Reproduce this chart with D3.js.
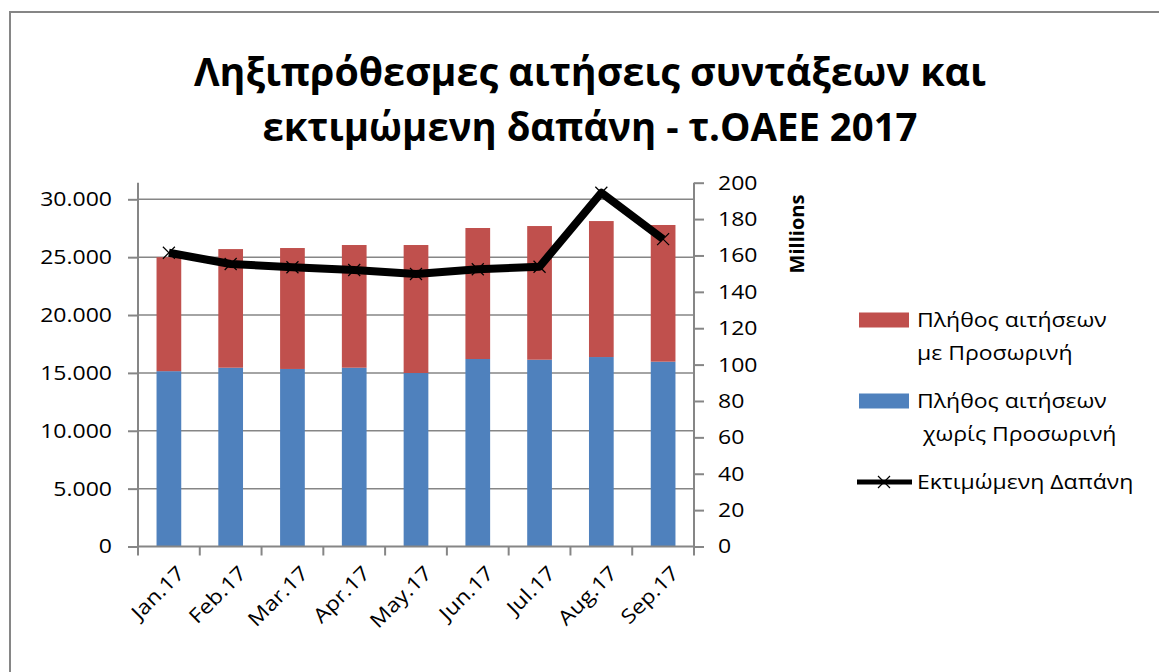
<!DOCTYPE html>
<html>
<head>
<meta charset="utf-8">
<script src="https://cdn.jsdelivr.net/npm/d3@7"></script>
<style>
  html, body { margin: 0; padding: 0; background: #fff; }
  svg { display: block; }
  text { font-family: "Open Sans", "Noto Sans", sans-serif; fill: #000; }
</style>
</head>
<body>
<svg id="chart" width="1159" height="672"></svg>
<script>
// ---- data ----
const categories = ["Jan.17", "Feb.17", "Mar.17", "Apr.17", "May.17", "Jun.17", "Jul.17", "Aug.17", "Sep.17"];
const withoutTemp = [15150, 15450, 15340, 15450, 14990, 16200, 16140, 16370, 15970]; // Πλήθος αιτήσεων χωρίς Προσωρινή
const withTemp = [9850, 10250, 10450, 10600, 11060, 11320, 11550, 11750, 11810];     // Πλήθος αιτήσεων με Προσωρινή
const cost = [161.5, 155.3, 153.5, 152.0, 149.8, 152.4, 153.8, 194.5, 169.0];        // Εκτιμώμενη Δαπάνη (Millions)
const leftTicks = [0, 5000, 10000, 15000, 20000, 25000, 30000];
const rightTicks = [0, 20, 40, 60, 80, 100, 120, 140, 160, 180, 200];
const titleLines = ["Ληξιπρόθεσμες αιτήσεις συντάξεων και", "εκτιμώμενη δαπάνη - τ.ΟΑΕΕ 2017"];
const legendItems = [
  { lines: ["Πλήθος αιτήσεων", "με Προσωρινή"], type: "bar", color: "#C0504D" },
  { lines: ["Πλήθος αιτήσεων", " χωρίς Προσωρινή"], type: "bar", color: "#4F81BD" },
  { lines: ["Εκτιμώμενη Δαπάνη"], type: "line", color: "#000" }
];

// ---- layout ----
const svg = d3.select("#chart");
const plot = { left: 138, right: 694, top: 182.7, bottom: 546.5, y30k: 199.3 };
const gridColor = "#868686";
const FS = 20;   // label font size
const K = 1.15;  // horizontal stretch of text glyphs

function stretch(sel, k) {
  sel.each(function () {
    const w = this.getComputedTextLength();
    this.setAttribute("textLength", w * k);
    this.setAttribute("lengthAdjust", "spacingAndGlyphs");
  });
}

// frame
svg.append("rect").attr("x", 10).attr("y", 12).attr("width", 3000).attr("height", 3000)
  .attr("fill", "none").attr("stroke", gridColor).attr("stroke-width", 2);

// scales
const x = d3.scaleBand().domain(categories).range([plot.left, plot.right]).paddingInner(0.6).paddingOuter(0.3);
const yL = d3.scaleLinear().domain([0, 30000]).range([plot.bottom, plot.y30k]);
const yR = d3.scaleLinear().domain([0, 200]).range([plot.bottom, plot.top]);

const loc = d3.formatLocale({ decimal: ",", thousands: ".", grouping: [3], currency: ["", ""] });
const fmt = loc.format(",");

// gridlines
svg.append("g").selectAll("line").data(leftTicks.filter(d => d > 0)).join("line")
  .attr("x1", plot.left).attr("x2", plot.right)
  .attr("y1", d => yL(d)).attr("y2", d => yL(d))
  .attr("stroke", gridColor).attr("stroke-width", 1.5);

// bars (stacked)
const stackData = categories.map((c, i) => ({ c, a: withoutTemp[i], b: withTemp[i] }));
const series = d3.stack().keys(["a", "b"])(stackData);
const colors = { a: "#4F81BD", b: "#C0504D" };
svg.append("g").selectAll("g").data(series).join("g")
  .attr("fill", s => colors[s.key])
  .selectAll("rect").data(s => s).join("rect")
  .attr("x", d => x(d.data.c))
  .attr("width", x.bandwidth())
  .attr("y", d => yL(d[1]))
  .attr("height", d => yL(d[0]) - yL(d[1]));

// left axis
const gL = svg.append("g").attr("transform", `translate(${plot.left},0)`)
  .call(d3.axisLeft(yL).tickValues(leftTicks).tickFormat(fmt).tickSize(10).tickPadding(16));
gL.select(".domain").remove();
gL.append("line").attr("x1", 0).attr("x2", 0).attr("y1", plot.top).attr("y2", plot.bottom + 1);
gL.selectAll("line").attr("stroke", gridColor).attr("stroke-width", 2);
gL.selectAll("text").attr("font-size", FS).attr("fill", "#000").attr("font-family", "Open Sans").call(stretch, K);

// right axis
const gR = svg.append("g").attr("transform", `translate(${plot.right},0)`)
  .call(d3.axisRight(yR).tickValues(rightTicks).tickSize(10).tickPadding(14));
gR.select(".domain").remove();
gR.append("line").attr("x1", 0).attr("x2", 0).attr("y1", plot.top).attr("y2", plot.bottom + 1);
gR.selectAll("line").attr("stroke", gridColor).attr("stroke-width", 2);
gR.selectAll("text").attr("font-size", FS).attr("fill", "#000").attr("font-family", "Open Sans").call(stretch, K);

// bottom axis
const step = x.step();
const gB = svg.append("g");
gB.append("line").attr("x1", plot.left - 1).attr("x2", plot.right + 1)
  .attr("y1", plot.bottom).attr("y2", plot.bottom);
gB.selectAll("line.tk").data(d3.range(categories.length + 1)).join("line").attr("class", "tk")
  .attr("x1", i => plot.left + i * step).attr("x2", i => plot.left + i * step)
  .attr("y1", plot.bottom).attr("y2", plot.bottom + 9);
gB.selectAll("line").attr("stroke", gridColor).attr("stroke-width", 2);
gB.selectAll("text").data(categories).join("text")
  .attr("text-anchor", "end")
  .attr("font-size", FS)
  .attr("transform", d => `translate(${x(d) + x.bandwidth() / 2 + 17},${plot.bottom + 28}) rotate(-45)`)
  .text(d => d).call(stretch, K);

// line series
const pts = categories.map((c, i) => [x(c) + x.bandwidth() / 2, yR(cost[i])]);
svg.append("path").attr("d", d3.line()(pts))
  .attr("fill", "none").attr("stroke", "#000").attr("stroke-width", 8).attr("stroke-linejoin", "round");
const mk = 6;
svg.append("g").selectAll("path").data(pts).join("path")
  .attr("d", p => `M${p[0] - mk},${p[1] - mk}L${p[0] + mk},${p[1] + mk}M${p[0] - mk},${p[1] + mk}L${p[0] + mk},${p[1] - mk}`)
  .attr("stroke", "#000").attr("stroke-width", 1.2).attr("fill", "none");

// "Millions"
svg.append("text").attr("transform", "translate(804,234) rotate(-90)")
  .attr("text-anchor", "middle").attr("font-size", FS).attr("font-weight", "bold")
  .text("Millions").call(stretch, 1.0);

// title
const titleWidths = [792, 655];
svg.append("g").selectAll("text").data(titleLines).join("text")
  .attr("x", 590).attr("y", (d, i) => 86 + i * 55)
  .attr("text-anchor", "middle").attr("font-size", 40).attr("font-weight", "bold")
  .attr("textLength", (d, i) => titleWidths[i]).attr("lengthAdjust", "spacingAndGlyphs")
  .text(d => d);

// legend
const legY = [320, 401, 482];
const lg = svg.append("g");
legendItems.forEach((it, i) => {
  const cy = legY[i];
  if (it.type === "bar") {
    lg.append("rect").attr("x", 859).attr("y", cy - 7.5).attr("width", 50).attr("height", 15).attr("fill", it.color);
  } else {
    lg.append("line").attr("x1", 857).attr("x2", 912).attr("y1", cy).attr("y2", cy)
      .attr("stroke", "#000").attr("stroke-width", 5);
    lg.append("path").attr("d", `M${884 - mk},${cy - mk}L${884 + mk},${cy + mk}M${884 - mk},${cy + mk}L${884 + mk},${cy - mk}`)
      .attr("stroke", "#000").attr("stroke-width", 1.2);
  }
  it.lines.forEach((t, j) => {
    lg.append("text").attr("x", 917).attr("y", cy + 7 + j * 33)
      .attr("font-size", FS).attr("xml:space", "preserve").style("white-space", "pre")
      .text(t).call(stretch, K);
  });
});
</script>
</body>
</html>
